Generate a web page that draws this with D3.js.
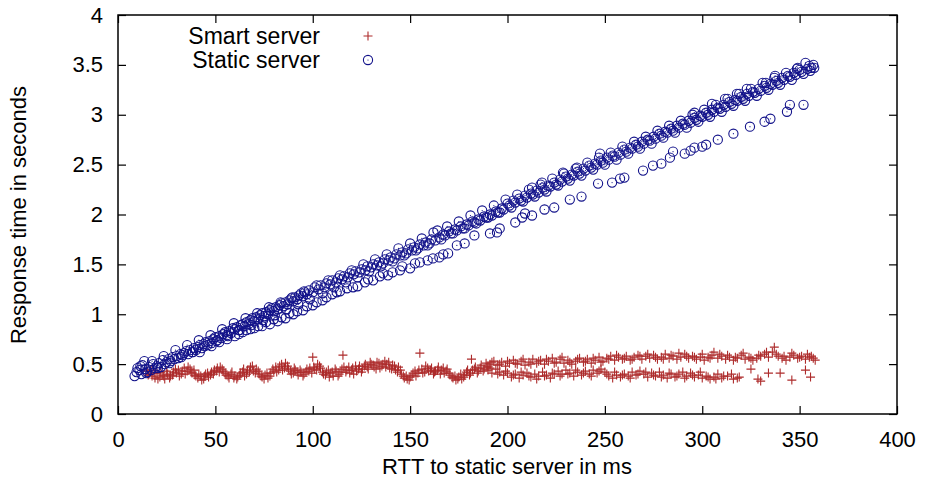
<!DOCTYPE html>
<html>
<head>
<meta charset="utf-8">
<script src="https://cdn.jsdelivr.net/npm/d3@7"></script>
<style>
  body { margin: 0; background: #fff; }
  text { font-family: "Liberation Sans", Arial, sans-serif; fill: #000; }
</style>
</head>
<body>
<div id="chart"></div>
<script>
// tick labels
const xTicks = [0, 50, 100, 150, 200, 250, 300, 350, 400];
const yTicks = [0, 0.5, 1, 1.5, 2, 2.5, 3, 3.5, 4];
const yTickLabels = ["0", "0.5", "1", "1.5", "2", "2.5", "3", "3.5", "4"];
const seriesNames = ["Smart server", "Static server"];

// Smart server: [rtt ms, seconds]
const smartServer = [
  [15,0.43],[16,0.40],[17.5,0.38],[19,0.36],[20,0.41],[21.5,0.37],[23,0.39],[24,0.35],[25.5,0.40],[27,0.38],
  [28.5,0.42],[30,0.41],[31,0.44],[32.5,0.40],[34,0.46],[35.5,0.43],[37,0.45],[38,0.41],[39.5,0.39],[41,0.36],
  [42.5,0.38],[44,0.35],[45,0.40],[46.5,0.37],[48,0.42],[49.5,0.44],[51,0.46],[52,0.42],[53.5,0.45],[55,0.41],
  [56.5,0.38],[58,0.40],[59.5,0.36],[61,0.35],[62.5,0.39],[64,0.42],[65,0.38],[66.5,0.44],[68,0.47],[69.5,0.43],
  [71,0.45],[72.5,0.40],[74,0.37],[75.5,0.39],[77,0.36],[78.5,0.41],[80,0.43],[81,0.47],[82.5,0.44],[84,0.50],
  [85.5,0.46],[87,0.48],[88.5,0.43],[90,0.41],[91,0.44],[92.5,0.39],[94,0.42],[95.5,0.40],[97,0.45],[98,0.43],
  [100,0.57],[100.5,0.47],[102,0.44],[103.5,0.48],[105,0.42],[106.5,0.39],[108,0.44],[109,0.41],[110.5,0.38],[112,0.43],
  [113.5,0.40],[115,0.45],[115.5,0.59],[117,0.42],[118.5,0.47],[120,0.44],[121,0.40],[122.5,0.43],[124,0.48],[125.5,0.45],
  [127,0.50],[128,0.47],[129.5,0.52],[131,0.49],[132.5,0.45],[134,0.51],[135.5,0.48],[137,0.53],[138,0.50],[139.5,0.46],
  [141,0.49],[142.5,0.44],[144,0.47],[145.5,0.40],[147,0.36],[148,0.38],[149.5,0.34],[151,0.39],[152.5,0.43],[154,0.41],
  [155,0.61],[156,0.45],[157.5,0.42],[159,0.46],[160.5,0.44],[162,0.40],[163,0.43],[164.5,0.47],[166,0.44],[167.5,0.41],
  [169,0.45],[170.5,0.39],[172,0.36],[173,0.38],[174.5,0.35],[176,0.40],[177.5,0.37],[179,0.42],[180.5,0.39],[181.5,0.55],
  [182,0.44],[183.5,0.47],[185,0.43],[186.5,0.49],[188,0.45],[189,0.51],[190,0.47],
  [15.5,0.39],[17,0.44],[18.5,0.41],[20.5,0.35],[22,0.42],[23.5,0.38],[25,0.43],[26.5,0.36],[28,0.39],[29.5,0.45],
  [31.5,0.38],[33,0.43],[34.5,0.40],[36,0.47],[37.5,0.42],[39,0.44],[40,0.38],[41.5,0.40],[43,0.34],[44.5,0.38],
  [46,0.41],[47.5,0.39],[49,0.40],[50.5,0.43],[52.5,0.47],[54,0.43],[55.5,0.39],[57,0.36],[58.5,0.42],[60,0.38],
  [61.5,0.37],[63,0.41],[64.5,0.45],[66,0.40],[67.5,0.42],[69,0.48],[70.5,0.41],[72,0.43],[73.5,0.38],[75,0.35],
  [76.5,0.41],[78,0.38],[79.5,0.45],[81.5,0.42],[83,0.48],[84.5,0.44],[86,0.51],[87.5,0.45],[89,0.40],[90.5,0.46],
  [92,0.42],[93.5,0.44],[95,0.38],[96.5,0.42],[98.5,0.46],[99.5,0.41],[101,0.45],[102.5,0.50],[104,0.46],[105.5,0.40],
  [107,0.42],[108.5,0.37],[110,0.42],[111.5,0.45],[113,0.38],[114.5,0.42],[116,0.47],[117.5,0.44],[119,0.41],[120.5,0.46],
  [122,0.48],[123.5,0.45],[125,0.42],[126.5,0.48],[128.5,0.45],[130,0.50],[131.5,0.47],[133,0.52],[134.5,0.46],[136,0.50],
  [137.5,0.47],[139,0.52],[140.5,0.45],[142,0.48],[143.5,0.42],[145,0.44],[146.5,0.38],[148.5,0.35],[150,0.37],[151.5,0.41],
  [153,0.38],[154.5,0.44],[156.5,0.41],[158,0.48],[159.5,0.43],[161,0.46],[162.5,0.42],[164,0.44],[165.5,0.40],[167,0.46],
  [168.5,0.43],[170,0.41],[171.5,0.37],[173.5,0.34],[175,0.37],[176.5,0.35],[178,0.39],[179.5,0.44],[181,0.41],[183,0.45],
  [184.5,0.41],[186,0.46],[187.5,0.43],[189.5,0.48],
  // upper band
  [191,0.50],[193,0.53],[195,0.49],[197,0.52],[199,0.48],[201,0.51],[203,0.54],[205,0.50],[207,0.53],[209,0.49],
  [211,0.52],[213,0.55],[215,0.51],[217,0.54],[219,0.50],[221,0.53],[223,0.56],[225,0.52],[227,0.55],[229,0.51],
  [231,0.54],[233,0.50],[235,0.53],[237,0.56],[239,0.52],[241,0.55],[243,0.51],[245,0.54],[247,0.57],[249,0.53],
  [251,0.56],[253,0.58],[255,0.54],[257,0.57],[259,0.55],[261,0.58],[263,0.54],[265,0.57],[267,0.59],[269,0.55],
  [271,0.58],[273,0.56],[275,0.59],[277,0.55],[279,0.57],[281,0.60],[283,0.56],[285,0.58],[287,0.55],[289,0.57],
  [291,0.60],[293,0.56],[295,0.58],[297,0.55],[299,0.57],[301,0.54],[303,0.57],[305,0.59],[306,0.62],[308,0.56],
  [310,0.58],[312,0.55],[314,0.57],[316,0.54],[318,0.56],[320,0.59],[322,0.55],[324,0.57],[326,0.54],[328,0.56],
  [330,0.58],[332,0.60],[334,0.57],[336,0.62],[337,0.67],[339,0.58],[341,0.56],[343,0.54],[345,0.57],[347,0.59],
  [349,0.56],[351,0.58],[353,0.55],[355,0.57],[357,0.56],[358,0.54],
  [192,0.52],[196,0.50],[200,0.53],[204,0.51],[208,0.55],[212,0.50],[216,0.53],[220,0.55],[224,0.51],[228,0.57],
  [232,0.52],[236,0.55],[240,0.53],[244,0.56],[248,0.52],[252,0.55],[256,0.59],[260,0.56],[264,0.55],[268,0.58],
  [272,0.60],[276,0.57],[280,0.55],[284,0.59],[288,0.61],[292,0.58],[296,0.57],[300,0.60],[304,0.56],[309,0.60],
  [313,0.59],[317,0.57],[321,0.61],[325,0.56],[329,0.59],[333,0.62],[338,0.60],[342,0.58],[346,0.61],[350,0.57],
  [354,0.60],[356,0.58],
  // lower band
  [190,0.44],[192,0.41],[194,0.45],[196,0.42],[198,0.39],[200,0.41],[202,0.37],[204,0.40],[206,0.36],[208,0.39],
  [210,0.41],[212,0.37],[214,0.40],[216,0.38],[218,0.42],[220,0.39],[222,0.36],[224,0.40],[226,0.43],[228,0.40],
  [230,0.44],[232,0.41],[234,0.38],[236,0.42],[238,0.39],[240,0.43],[242,0.40],[244,0.44],[246,0.41],[248,0.45],
  [250,0.42],[252,0.38],[254,0.36],[256,0.39],[258,0.37],[260,0.40],[262,0.38],[264,0.42],[266,0.39],[268,0.43],
  [270,0.40],[272,0.37],[274,0.41],[276,0.38],[278,0.42],[280,0.39],[282,0.36],[284,0.40],[286,0.37],[288,0.40],
  [290,0.42],[292,0.38],[294,0.41],[296,0.37],[298,0.39],[300,0.36],[302,0.38],[304,0.35],[306,0.37],[308,0.40],
  [310,0.36],[313,0.38],[316,0.35],[319,0.37],[325,0.45],[328.6,0.35],[330,0.33],[334,0.41],[340,0.41],[346,0.34],
  [353,0.44],[355.6,0.37],
  [191,0.46],[195,0.40],[199,0.43],[203,0.39],[207,0.42],[211,0.38],[215,0.35],[219,0.38],[223,0.41],[227,0.38],
  [231,0.40],[235,0.44],[239,0.41],[243,0.38],[247,0.43],[251,0.40],[255,0.42],[259,0.39],[263,0.36],[267,0.40],
  [271,0.42],[275,0.39],[279,0.37],[283,0.41],[287,0.38],[291,0.36],[295,0.39],[299,0.42],[303,0.37],[307,0.35],
  [311,0.38],[315,0.40],[318,0.36]
];

// Static server: [rtt ms, seconds]
const staticServer = [
  [8.5,0.38],[9.5,0.42],[10,0.46],[11,0.44],[12,0.40],[12.5,0.49],[13.5,0.53],[14,0.45],[15,0.42],[16,0.47],
  [17,0.44],[18,0.50],[19,0.46],[20,0.48],[21,0.51],[22,0.47],[23,0.54],[24,0.50],[25,0.52],[26,0.55],
  [27,0.53],[28,0.57],[29,0.55],[30,0.58],[31,0.56],[32,0.60],[33,0.59],[34,0.61],[35,0.63],[36,0.60],
  [37,0.64],[38,0.62],[39,0.66],[40,0.64],[41,0.67],[42,0.69],[43,0.66],[44,0.70],[45,0.72],[46,0.69],
  [47,0.73],[48,0.71],[49,0.75],[50,0.77],[51,0.74],[52,0.78],[53,0.76],[54,0.80],[55,0.82],[56,0.79],
  [57,0.83],[58,0.81],[59,0.86],[60,0.85],[61,0.87],[62,0.84],[63,0.89],[64,0.90],[65,0.88],[66,0.92],
  [67,0.90],[68,0.94],[69,0.96],[70,0.93],[71,0.97],[72,0.95],[73,0.99],[74,1.01],[75,0.98],[76,1.02],
  [77,1.00],[78,1.04],[79,1.06],[80,1.03],[81,1.07],[82,1.05],[83,1.09],[84,1.11],[85,1.08],[86,1.12],
  [87,1.10],[88,1.14],[89,1.16],[90,1.13],[91,1.17],[92,1.15],[93,1.19],[94,1.21],[95,1.18],[96,1.22],
  [97,1.20],[98,1.24],[100,1.22],[101,1.27],[103,1.25],[104,1.29],[106,1.27],[107,1.31],[109,1.30],[110,1.34],
  [112,1.32],[113,1.36],[115,1.35],[116,1.38],[118,1.37],[119,1.41],[121,1.40],[122,1.43],[124,1.42],[125,1.45],
  [127,1.44],[128,1.48],[130,1.47],[131,1.50],[133,1.49],[134,1.52],[136,1.51],[137,1.55],[139,1.54],[140,1.57],
  [142,1.56],[143,1.60],[145,1.59],[146,1.62],[148,1.61],[149,1.65],[151,1.64],[152,1.67],[154,1.66],[155,1.70],
  [157,1.69],[158,1.72],[160,1.71],[161,1.75],[163,1.74],[164,1.84],[165,1.77],[167,1.80],[168,1.79],[170,1.83],
  [171,1.81],[173,1.85],[174,1.84],[176,1.88],[177,1.86],[179,1.90],[180,1.89],[182,1.93],[183,1.92],[185,1.95],
  [186,1.94],[188,1.98],[189,1.97],[191,2.00],[192,1.99],[194,2.03],[195,2.02],[197,2.06],[198,2.05],
  [200,2.11],[201,2.09],[203,2.14],[204,2.12],[206,2.16],[207,2.14],[209,2.19],[210,2.17],[212,2.21],[213,2.20],
  [215,2.24],[216,2.22],[218,2.27],[219,2.25],[221,2.29],[222,2.28],[224,2.32],[225,2.30],[227,2.35],[228,2.33],
  [230,2.38],[231,2.36],[233,2.40],[234,2.39],[236,2.43],[237,2.41],[239,2.46],[240,2.44],[242,2.49],[243,2.47],
  [245,2.51],[246,2.50],[248,2.54],[249,2.52],[251,2.57],[252,2.55],[254,2.59],[255,2.58],[257,2.62],[258,2.60],
  [260,2.65],[261,2.63],[263,2.67],[264,2.66],[266,2.70],[267,2.68],[269,2.73],[270,2.71],[272,2.75],[273,2.74],
  [275,2.78],[276,2.76],[278,2.81],[279,2.79],[281,2.83],[282,2.82],[284,2.86],[285,2.84],[287,2.89],[288,2.87],
  [290,2.91],[291,2.90],[293,2.94],[294,2.92],[296,2.97],[297,2.95],[299,2.99],[300,2.98],[302,3.02],[303,3.00],
  [305,3.05],[306,3.03],[308,3.07],[309,3.06],[311,3.10],[312,3.08],[314,3.13],[315,3.11],[317,3.15],[318,3.14],
  [320,3.18],[321,3.16],[323,3.21],[324,3.19],[326,3.23],[327,3.22],[329,3.26],[330,3.24],[332,3.29],[333,3.27],
  [335,3.31],[336,3.30],[338,3.34],[339,3.32],[341,3.37],[342,3.35],[344,3.39],[345,3.38],[347,3.42],[348,3.40],
  [350,3.45],[351,3.43],[353,3.52],[354,3.46],[355,3.49],[356,3.47],[357,3.50],
  // scatter around the main line
  [11.5,0.48],[14.5,0.41],[17.5,0.53],[20.5,0.46],[23.5,0.58],[26.5,0.51],[29.5,0.64],[32.5,0.57],[35.5,0.69],[38.5,0.62],
  [41.5,0.74],[44.5,0.68],[47.5,0.79],[50.5,0.73],[53.5,0.85],[56.5,0.78],[59.5,0.91],[62.5,0.84],[65.5,0.96],[68.5,0.89],
  [71.5,1.01],[74.5,0.94],[77.5,1.07],[80.5,0.99],[83.5,1.12],[86.5,1.05],[89.5,1.17],[92.5,1.10],[95.5,1.23],[98.5,1.15],
  [102,1.29],[105,1.21],[108,1.34],[111,1.27],[114,1.39],[117,1.32],[120,1.44],[123,1.37],[126,1.50],[129,1.43],
  [132,1.55],[135,1.48],[138,1.60],[141,1.53],[144,1.66],[147,1.59],[150,1.71],[153,1.64],[156,1.76],[159,1.69],
  [162,1.82],[166,1.75],[169,1.88],[172,1.81],[175,1.93],[178,1.86],[181,1.99],[184,1.91],[187,2.04],[190,1.97],
  [193,2.09],[196,2.02],[199,2.15],[202,2.07],[205,2.20],[208,2.13],[211,2.25],[214,2.18],[217,2.30],[220,2.23],
  [223,2.36],[226,2.29],[229,2.41],[232,2.34],[235,2.46],[238,2.39],[241,2.52],[244,2.45],[247,2.57],[250,2.50],
  [253,2.62],[256,2.55],[259,2.68],[262,2.61],[265,2.73],[268,2.66],[271,2.78],[274,2.71],[277,2.84],[280,2.77],
  [283,2.89],[286,2.82],[289,2.94],[292,2.87],[295,3.00],[298,2.93],[301,3.05],[304,2.98],[307,3.10],[310,3.03],
  [313,3.16],[316,3.09],[319,3.21],[322,3.14],[325,3.26],[328,3.19],[331,3.32],[334,3.25],[337,3.37],[340,3.30],
  [343,3.42],[346,3.35],[349,3.47],[352,3.41],[355.5,3.44],[357.5,3.47],
  // points sitting above the main line
  [212.6,2.27],[217.7,2.32],[228.5,2.42],[235.7,2.47],[247.5,2.61],[296,3.02],[305,3.11],[311.7,3.16],
  [317.8,3.21],[322.9,3.26],[332.7,3.32],[337.4,3.39],[348.6,3.46],
  // slower second branch
  [42,0.62],[48,0.68],[52,0.72],[56,0.75],[60,0.78],[64,0.82],[68,0.85],[72,0.88],[76,0.92],[80,0.95],
  [84,0.97],[88,1.01],[92,1.03],[97,1.08],[102,1.12],[107,1.17],
  [62,0.80],[66,0.84],[70,0.86],[74,0.88],[78,0.90],[82,0.93],[86,0.96],[90,1.00],[95,1.04],[100,1.09],
  [105,1.14],[110,1.20],[112.3,1.22],[114,1.23],[117.6,1.26],[120.7,1.27],[123,1.28],[126.8,1.32],[128.4,1.35],[131,1.34],
  [134.5,1.38],[136,1.41],[138.6,1.39],[141,1.42],[144.8,1.44],[146,1.48],[150,1.46],[152.5,1.51],[155,1.52],[159,1.54],
  [161.7,1.56],[165,1.57],[167,1.60],[169.5,1.61],[174,1.69],[178,1.71],[183,1.79],[191,1.81],[194.6,1.82],[196,1.86],
  [204,1.92],[207.5,1.97],[209,2.01],[212.6,1.99],[219,2.05],[224,2.07],[232,2.15],[238,2.18],[246.5,2.31],[253.7,2.32],
  [257.8,2.36],[260,2.37],[269.6,2.44],[274.7,2.49],[279,2.51],[283.4,2.57],[285,2.63],[291,2.61],[294,2.64],[296,2.67],
  [300,2.68],[302,2.70],[308,2.75],[316,2.81],[324.5,2.88],[332,2.93],[335,2.96],[343.5,3.03],[345,3.10],[352,3.10]
];

const width = 925, height = 489;
const smartColor = "#ad2b2b", staticColor = "#12128a";
const fontSize = "22px";

const svg = d3.select("#chart").append("svg")
  .attr("width", width)
  .attr("height", height);

const x = d3.scaleLinear().domain([0, 400]).range([118, 897]);
const y = d3.scaleLinear().domain([0, 4]).range([414, 15]);

// axes with inward ticks, mirrored on top and right
const fmtY = (d, i) => yTickLabels[i];
const axBottom = svg.append("g").attr("transform", "translate(0,414)")
  .call(d3.axisBottom(x).tickValues(xTicks).tickSizeInner(-8).tickSizeOuter(0).tickPadding(17));
const axTop = svg.append("g").attr("transform", "translate(0,15)")
  .call(d3.axisTop(x).tickValues(xTicks).tickSizeInner(-8).tickSizeOuter(0).tickFormat(""));
const axLeft = svg.append("g").attr("transform", "translate(118,0)")
  .call(d3.axisLeft(y).tickValues(yTicks).tickSizeInner(-8).tickSizeOuter(0).tickPadding(15).tickFormat(fmtY));
const axRight = svg.append("g").attr("transform", "translate(897,0)")
  .call(d3.axisRight(y).tickValues(yTicks).tickSizeInner(-8).tickSizeOuter(0).tickFormat(""));

[axBottom, axTop, axLeft, axRight].forEach(g => {
  g.select(".domain").remove();
  g.selectAll("line").attr("stroke", "#000").attr("stroke-width", 1.2);
  g.selectAll("text").style("font-size", fontSize).style("font-family", "Liberation Sans, Arial, sans-serif").attr("fill", "#000");
});

svg.append("rect")
  .attr("x", 118).attr("y", 15)
  .attr("width", 897 - 118).attr("height", 414 - 15)
  .attr("fill", "none").attr("stroke", "#000").attr("stroke-width", 1.5);

// smart server: plus marks
const plus = "M-4.5,0H4.5M0,-4.5V4.5";
svg.append("g").selectAll("path")
  .data(smartServer)
  .enter().append("path")
  .attr("d", plus)
  .attr("transform", d => `translate(${x(d[0])},${y(d[1])})`)
  .attr("stroke", smartColor).attr("stroke-width", 1.1).attr("fill", "none");

// static server: circles with a tiny centre dot
const dots = svg.append("g");
dots.selectAll("circle.o")
  .data(staticServer)
  .enter().append("circle")
  .attr("class", "o")
  .attr("cx", d => x(d[0]))
  .attr("cy", d => y(d[1]))
  .attr("r", 4.6)
  .attr("fill", "none").attr("stroke", staticColor).attr("stroke-width", 1.1);
dots.selectAll("circle.c")
  .data(staticServer)
  .enter().append("circle")
  .attr("class", "c")
  .attr("cx", d => x(d[0]))
  .attr("cy", d => y(d[1]))
  .attr("r", 0.6)
  .attr("fill", staticColor);

// legend
const legend = svg.append("g");
legend.selectAll("text")
  .data(seriesNames)
  .enter().append("text")
  .attr("x", 320)
  .attr("y", (d, i) => 36 + i * 24)
  .attr("dy", "0.35em")
  .attr("text-anchor", "end")
  .style("font-size", "23px")
  .text(d => d);
legend.append("path")
  .attr("d", plus)
  .attr("transform", "translate(368,36)")
  .attr("stroke", smartColor).attr("stroke-width", 1.1).attr("fill", "none");
legend.append("circle")
  .attr("cx", 368).attr("cy", 60).attr("r", 4.6)
  .attr("fill", "none").attr("stroke", staticColor).attr("stroke-width", 1.1);
legend.append("circle")
  .attr("cx", 368).attr("cy", 60).attr("r", 0.6)
  .attr("fill", staticColor);

// axis titles
svg.append("text")
  .attr("x", 507).attr("y", 474)
  .attr("text-anchor", "middle")
  .style("font-size", fontSize)
  .text("RTT to static server in ms");
svg.append("text")
  .attr("transform", "translate(26,215) rotate(-90)")
  .attr("text-anchor", "middle")
  .style("font-size", fontSize)
  .text("Response time in seconds");
</script>
</body>
</html>
